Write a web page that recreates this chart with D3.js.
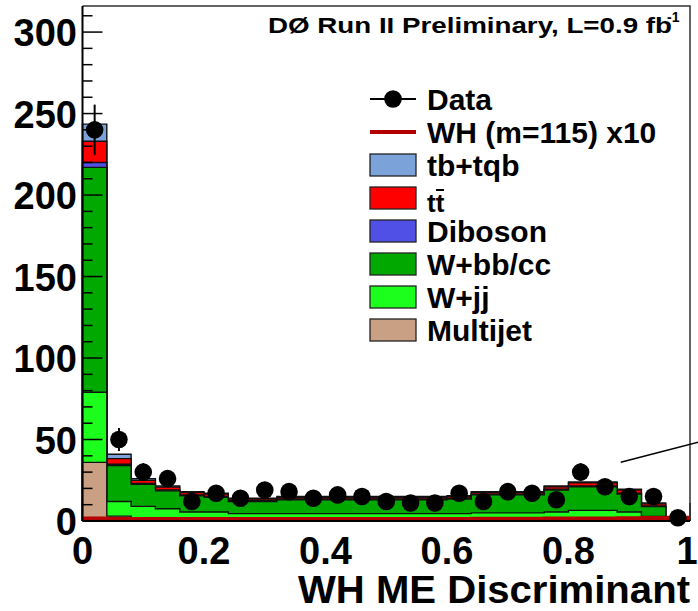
<!DOCTYPE html>
<html>
<head>
<meta charset="utf-8">
<script src="https://cdn.jsdelivr.net/npm/d3@7"></script>
<style>
  html, body { margin: 0; padding: 0; background: #fff; }
  svg { display: block; }
  text { font-family: "Liberation Sans", Arial, Helvetica, sans-serif; font-weight: bold; fill: #000; }
</style>
</head>
<body>
<svg id="chart" width="698" height="611"></svg>
<script>
// ---- data ----
const binCenters = [0.02,0.06,0.10,0.14,0.18,0.22,0.26,0.30,0.34,0.38,0.42,0.46,0.50,0.54,0.58,0.62,0.66,0.70,0.74,0.78,0.82,0.86,0.90,0.94,0.98];
const binWidth = 0.04;
const multijet = [36,3,2,1.5,1,1,0.5,0.5,0.5,0.5,0.5,0.5,0.5,0.5,0.5,0.5,0.5,0.5,0.5,0.5,0.5,0.5,0.5,0.3,0];
const wjj      = [43,9,7,6,4.5,4.5,4,4,4,4,4,4,4,4,4,4,4.5,4.5,4.5,5,6,6,5,2.5,0.2];
const wbbcc    = [138,22,13.5,11,10,9,7.5,7.5,8.5,8.5,8.5,8.5,8.5,8.5,8.5,9,11,11,11,13.5,14.5,14.5,11,6,0.5];
const diboson  = [3,0.8,0.5,0.5,0.5,0.5,0.5,0.5,0.5,0.5,0.5,0.5,0.5,0.5,0.5,0.5,0.5,0.5,0.5,0.5,0.5,0.5,0.5,0.4,0.1];
const ttbar    = [13,3.5,2,1.8,1.5,1.5,1,1,1,1,1,1,1,1,1,1,1,1,1,1.5,2,2,2,1.3,0.1];
const tbtqb    = [10.5,2.7,1,0.7,0.5,0.5,0.5,0.5,0.5,0.5,0.5,0.5,0.5,0.5,0.5,0.5,0.5,0.5,0.5,0.5,0.5,0.5,0.5,0.5,0.1];
const dataCounts = [240,50,30,26,12,17,14,19,18,14,16,15,12,11,11,17,12,18,17,13,30,21,15,15,2];
const whSignal = [1.5,1.3,1.3,1.3,1.3,1.3,1.3,1.3,1.3,1.3,1.3,1.3,1.3,1.3,1.3,1.3,1.4,1.4,1.4,1.5,1.6,1.6,1.7,1.8,2.0];
const xTicks = [0, 0.2, 0.4, 0.6, 0.8, 1];
const xTickLabels = ["0", "0.2", "0.4", "0.6", "0.8", "1"];
const yTicks = [0, 50, 100, 150, 200, 250, 300];
const stackNames  = ["Multijet", "W+jj", "W+bb/cc", "Diboson", "tt", "tb+tqb"];
const stackColors = ["#c9a083", "#1cff1c", "#00a800", "#5050e6", "#ff0000", "#7ba2d9"];
const legendLabels = ["Data", "WH (m=115) x10", "tb+tqb", "tt", "Diboson", "W+bb/cc", "W+jj", "Multijet"];

// ---- layout ----
const svg = d3.select("#chart");
const x = d3.scaleLinear().domain([0, 1]).range([82.5, 690]);
const y = d3.scaleLinear().domain([0, 316]).range([521, 6]);

svg.append("rect").attr("width", 698).attr("height", 611).attr("fill", "#fff");

// x ticks (under the histograms, as in ROOT)
const gx = svg.append("g");
gx.selectAll("line.maj").data(xTicks).join("line")
  .attr("x1", d => x(d)).attr("x2", d => x(d))
  .attr("y1", y(0)).attr("y2", y(0) - 18)
  .attr("stroke", "#000").attr("stroke-width", 1.5);

// stacked histograms
const layers = [multijet, wjj, wbbcc, diboson, ttbar, tbtqb];
const cum = [];
let running = binCenters.map(() => 0);
layers.forEach(l => {
  running = running.map((v, i) => v + l[i]);
  cum.push(running.slice());
});
function stepPoints(vals) {
  const pts = [];
  vals.forEach((v, i) => {
    pts.push([binCenters[i] - binWidth / 2, v]);
    pts.push([binCenters[i] + binWidth / 2, v]);
  });
  return pts;
}
const area = d3.area().x(d => x(d[0])).y0(y(0)).y1(d => y(d[1]));
const outline = d3.line().x(d => x(d[0])).y(d => y(d[1]));
for (let k = cum.length - 1; k >= 0; k--) {
  const pts = stepPoints(cum[k]);
  svg.append("path").attr("d", area(pts)).attr("fill", stackColors[k]);
  const full = [[pts[0][0], 0], ...pts, [pts[pts.length - 1][0], 0]];
  svg.append("path").attr("d", outline(full))
    .attr("fill", "none").attr("stroke", "#111").attr("stroke-width", 1.4);
}

// WH signal line
svg.append("path").attr("d", outline(stepPoints(whSignal)))
  .attr("fill", "none").attr("stroke", "#b40000").attr("stroke-width", 4);

// data points with errors
const gd = svg.append("g");
gd.selectAll("line").data(dataCounts).join("line")
  .attr("x1", (d, i) => x(binCenters[i])).attr("x2", (d, i) => x(binCenters[i]))
  .attr("y1", d => y(d + Math.sqrt(d))).attr("y2", d => y(Math.max(0, d - Math.sqrt(d))))
  .attr("stroke", "#000").attr("stroke-width", 2);
gd.selectAll("circle").data(dataCounts).join("circle")
  .attr("cx", (d, i) => x(binCenters[i])).attr("cy", d => y(d))
  .attr("r", 8.8).attr("fill", "#000");

// frame
svg.append("path")
  .attr("d", `M${x(0)},${y(316)}H${x(1)}V${y(0)}`)
  .attr("fill", "none").attr("stroke", "#333").attr("stroke-width", 1.5);
svg.append("line").attr("x1", x(0)).attr("x2", x(1)).attr("y1", y(0)).attr("y2", y(0))
  .attr("stroke", "#000").attr("stroke-width", 2);
svg.append("line").attr("x1", x(0)).attr("x2", x(0)).attr("y1", y(0)).attr("y2", y(316))
  .attr("stroke", "#000").attr("stroke-width", 2);

// y ticks (inside)
const minor = d3.range(0, 316, 10);
svg.append("g").selectAll("line").data(minor).join("line")
  .attr("x1", x(0)).attr("x2", d => x(0) + (d % 50 === 0 ? 20 : 10))
  .attr("y1", d => y(d)).attr("y2", d => y(d))
  .attr("stroke", "#000").attr("stroke-width", 1.5);
svg.append("g").selectAll("text").data(yTicks).join("text")
  .attr("x", 77).attr("y", d => y(d) + 14)
  .attr("text-anchor", "end").attr("font-size", 38)
  .text(d => d);

// x tick labels
svg.append("g").selectAll("text").data(xTicks).join("text")
  .attr("x", d => x(d) - (d === 1 ? 3 : 0)).attr("y", 564)
  .attr("text-anchor", "middle").attr("font-size", 38)
  .text((d, i) => xTickLabels[i]);

// axis title
svg.append("text").attr("x", 298).attr("y", 603)
  .attr("font-size", 38).attr("textLength", 392).attr("lengthAdjust", "spacingAndGlyphs")
  .text("WH ME Discriminant");

// header
svg.append("text").attr("x", 268).attr("y", 33).attr("font-size", 22)
  .attr("textLength", 404).attr("lengthAdjust", "spacingAndGlyphs")
  .text("DØ Run II Preliminary, L=0.9 fb");
svg.append("text").attr("x", 667).attr("y", 22).attr("font-size", 14).text("-1");

// stray pointer line
svg.append("line")
  .attr("x1", x(0.886)).attr("y1", y(36)).attr("x2", x(1.02)).attr("y2", y(49))
  .attr("stroke", "#000").attr("stroke-width", 1.5);

// legend
const lg = svg.append("g");
const rowY = d3.range(legendLabels.length).map(i => 99 + i * 33);
const bx0 = 370, bx1 = 416, tx = 427;
// Data
lg.append("line").attr("x1", bx0).attr("x2", bx1).attr("y1", rowY[0]).attr("y2", rowY[0]).attr("stroke", "#000").attr("stroke-width", 2);
lg.append("circle").attr("cx", (bx0 + bx1) / 2).attr("cy", rowY[0]).attr("r", 8.8).attr("fill", "#000");
// WH
lg.append("line").attr("x1", bx0).attr("x2", bx1).attr("y1", rowY[1]).attr("y2", rowY[1]).attr("stroke", "#b40000").attr("stroke-width", 4);
// boxes
const boxOrder = [5, 4, 3, 2, 1, 0];
boxOrder.forEach((k, j) => {
  const cy = rowY[j + 2];
  lg.append("rect").attr("x", bx0).attr("y", cy - 11).attr("width", bx1 - bx0).attr("height", 22)
    .attr("fill", stackColors[k]).attr("stroke", "#222").attr("stroke-width", 1.3);
});
legendLabels.forEach((t, i) => {
  const isTT = t === "tt";
  lg.append("text").attr("x", tx).attr("y", rowY[i] + (isTT ? 14 : 11))
    .attr("font-size", isTT ? 26 : 30).text(t);
  if (isTT) {
    lg.append("line").attr("x1", tx + 9).attr("x2", tx + 17)
      .attr("y1", rowY[i] - 8).attr("y2", rowY[i] - 8)
      .attr("stroke", "#000").attr("stroke-width", 2);
  }
});
</script>
</body>
</html>
